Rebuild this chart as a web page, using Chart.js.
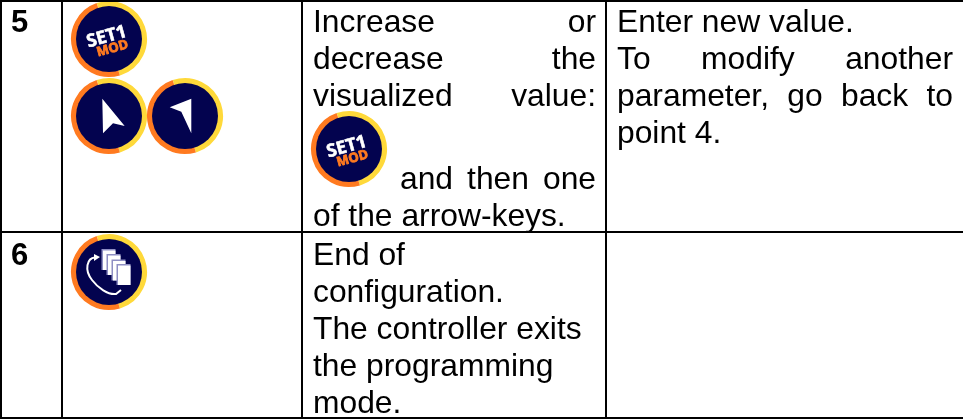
<!DOCTYPE html>
<html>
<head>
<meta charset="utf-8">
<title>Programming steps</title>
<style>
  html,body{margin:0;padding:0;background:#fff}
  canvas{display:block}
</style>
<script src="https://cdn.jsdelivr.net/npm/chart.js@4/dist/chart.umd.min.js"></script>
</head>
<body>
<canvas id="table" width="963" height="419"></canvas>
<script>
  // table rules
  const ruleXs = [1, 62, 302, 606];
  const ruleYs = [1, 232, 418];
  // icons
  const iconXs = [109, 109, 185, 349, 109];
  const iconYs = [39, 116, 116, 149, 272];
  const iconKinds = ['set', 'left', 'right', 'set', 'pages'];
  // text rows
  const stepNumbers = ['5', '6'];
  const stepNumberYs = [32, 265];
  const actionLines = ['Increase or', 'decrease the', 'visualized value:', 'and then one', 'of the arrow-keys.', 'End of', 'configuration.', 'The controller exits', 'the programming', 'mode.'];
  const actionYs = [32, 69, 106, 189, 226, 265, 302, 339, 376, 413];
  const actionLefts = [313, 313, 313, 400, 313, 313, 313, 313, 313, 313];
  const actionJustified = [true, true, true, true, false, false, false, false, false, false];
  const resultLines = ['Enter new value.', 'To modify another', 'parameter, go back to', 'point 4.'];
  const resultYs = [32, 69, 106, 143];
  const resultJustified = [false, true, true, false];

  const FONT = '"Liberation Sans", Arial, sans-serif';
  const NAVY = '#03034f', ORANGE = '#ff7a20', YELLOW = '#ffd93a';

  function makeIcon(kind){
    const S = 80, c = document.createElement('canvas');
    c.width = S; c.height = S;
    const g = c.getContext('2d');
    g.translate(S/2, S/2);
    // ring
    g.lineWidth = 6;
    g.strokeStyle = YELLOW;
    g.beginPath(); g.arc(0, 0, 35, -1.9, 1.28); g.stroke();
    g.strokeStyle = ORANGE;
    g.beginPath(); g.arc(0, 0, 35, 1.28, 4.38); g.stroke();
    g.fillStyle = NAVY;
    g.beginPath(); g.arc(0, 0, 33, 0, Math.PI*2); g.fill();

    if (kind === 'set'){
      g.save();
      g.rotate(-0.27);
      g.textAlign = 'center';
      g.lineJoin = 'round';
      g.font = 'bold 18px "Open Sans", sans-serif';
      g.fillStyle = '#fff';
      g.strokeStyle = '#fff';
      g.lineWidth = 0.6;
      g.fillText('SET1', -1.7, 2.6);
      g.strokeText('SET1', -1.7, 2.6);
      g.font = 'bold 13px "Open Sans", sans-serif';
      g.fillStyle = ORANGE;
      g.strokeStyle = ORANGE;
      g.lineWidth = 0.8;
      g.fillText('MOD', 0.8, 14);
      g.strokeText('MOD', 0.8, 14);
      g.restore();
    } else if (kind === 'left' || kind === 'right'){
      const pts = kind === 'left'
        ? [[-6.7,-17.3],[15.7,10],[4,7.3],[-6,17.3]]
        : [[6.3,-17.3],[-15.3,-8.7],[-3.7,-4.3],[6.3,17.3]];
      g.fillStyle = '#fff';
      g.beginPath();
      pts.forEach((p,i)=> i ? g.lineTo(p[0],p[1]) : g.moveTo(p[0],p[1]));
      g.closePath(); g.fill();
    } else {
      // stacked pages
      [[-7.5,-23],[-2.5,-18],[2.5,-12.5],[7.5,-8]].forEach(p=>{
        g.fillStyle = '#8f8fc4';
        g.fillRect(p[0], p[1], 14, 21);
        g.fillStyle = '#fff';
        g.fillRect(p[0]+1.5, p[1]+1.5, 12.5, 19.5);
      });
      // return arrow
      g.strokeStyle = '#fff';
      g.lineWidth = 2;
      g.beginPath();
      g.moveTo(-14,-14.5);
      g.bezierCurveTo(-22,-14,-25,-2,-17,8);
      g.bezierCurveTo(-11,16,-1,23,7,22);
      g.lineTo(12,18);
      g.stroke();
      g.fillStyle = '#fff';
      g.beginPath(); g.moveTo(-9,-15); g.lineTo(-15,-18); g.lineTo(-15,-11); g.closePath(); g.fill();
    }
    return c;
  }

  function drawRow(ctx, text, left, right, y){
    const words = text.split(' ');
    if (!right || words.length < 2){ ctx.fillText(text, left, y); return; }
    const used = words.reduce((s,w)=> s + ctx.measureText(w).width, 0);
    const gap = (right - left - used) / (words.length - 1);
    let x = left;
    words.forEach(w=>{ ctx.fillText(w, x, y); x += ctx.measureText(w).width + gap; });
  }

  // all the text of the table, placed through the chart scales
  const textPlugin = {
    id:'tableText',
    afterDatasetsDraw(chart){
      const ctx = chart.ctx, sx = chart.scales.x, sy = chart.scales.y;
      ctx.save();
      ctx.fillStyle = '#000';
      ctx.textBaseline = 'alphabetic';
      ctx.font = 'bold 31px ' + FONT;
      stepNumbers.forEach((t,i)=> ctx.fillText(t, sx.getPixelForValue(11), sy.getPixelForValue(stepNumberYs[i])));
      ctx.font = '31.8px ' + FONT;
      actionLines.forEach((t,i)=> drawRow(ctx, t, sx.getPixelForValue(actionLefts[i]), actionJustified[i] ? sx.getPixelForValue(596) : 0, sy.getPixelForValue(actionYs[i])));
      resultLines.forEach((t,i)=> drawRow(ctx, t, sx.getPixelForValue(617), resultJustified[i] ? sx.getPixelForValue(953) : 0, sy.getPixelForValue(resultYs[i])));
      ctx.restore();
    }
  };

  function ruleSet(points){
    return {type:'scatter', showLine:true, data:points, borderColor:'#000', borderWidth:2, pointRadius:0, clip:false};
  }
  const datasets = [];
  ruleXs.forEach(x=> datasets.push(ruleSet([{x, y:0}, {x, y:419}])));
  ruleYs.forEach(y=> datasets.push(ruleSet([{x:0, y}, {x:963, y}])));
  datasets.push({
    type:'scatter',
    data: iconXs.map((x,i)=>({x, y:iconYs[i]})),
    pointStyle: iconKinds.map(makeIcon),
    pointRadius: 40,
    clip:false
  });

  new Chart(document.querySelector('#table'), {
    type:'scatter',
    data:{datasets},
    plugins:[textPlugin],
    options:{
      responsive:false,
      animation:false,
      layout:{padding:0, autoPadding:false},
      plugins:{legend:{display:false}, tooltip:{enabled:false}},
      scales:{
        x:{type:'linear', display:false, min:0, max:963},
        y:{type:'linear', display:false, reverse:true, min:0, max:419}
      }
    }
  });
</script>
</body>
</html>
